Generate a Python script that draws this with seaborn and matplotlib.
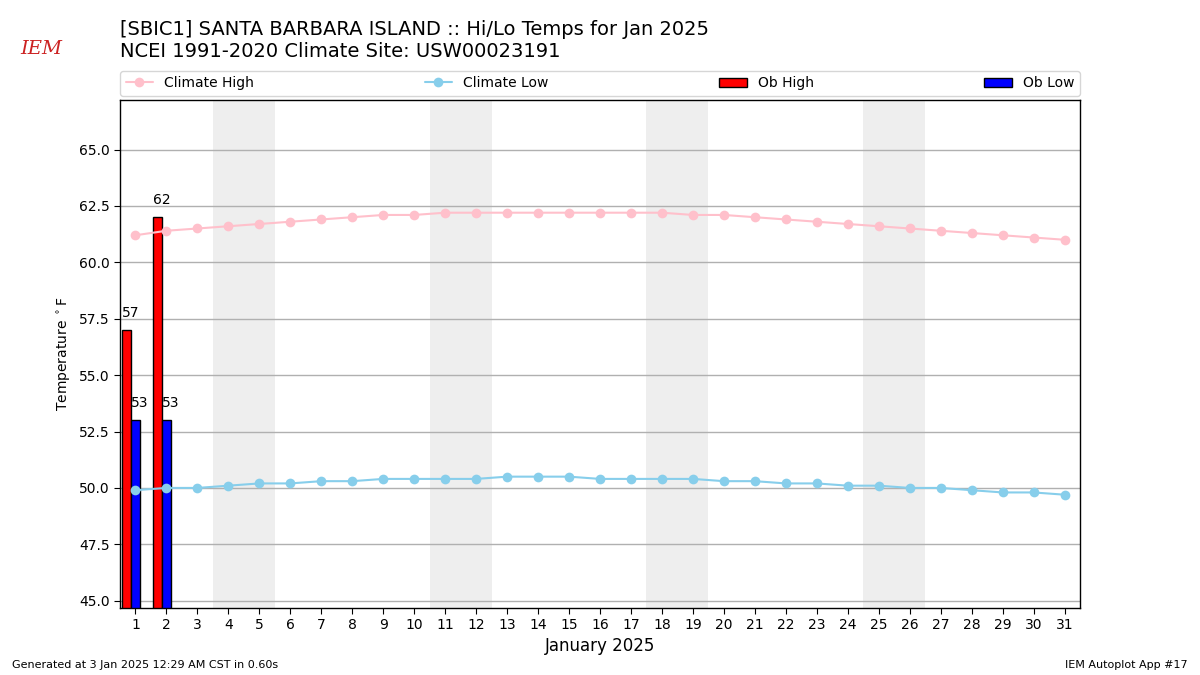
import seaborn as sns
import matplotlib.pyplot as plt
import pandas as pd
import numpy as np
from matplotlib.patches import Patch
from matplotlib.lines import Line2D

days = list(range(1, 32))
climate_high = [61.2, 61.4, 61.5, 61.6, 61.7, 61.8, 61.9, 62.0, 62.1, 62.1,
                62.2, 62.2, 62.2, 62.2, 62.2, 62.2, 62.2, 62.2, 62.1, 62.1,
                62.0, 61.9, 61.8, 61.7, 61.6, 61.5, 61.4, 61.3, 61.2, 61.1, 61.0]
climate_low = [49.9, 50.0, 50.0, 50.1, 50.2, 50.2, 50.3, 50.3, 50.4, 50.4,
               50.4, 50.4, 50.5, 50.5, 50.5, 50.4, 50.4, 50.4, 50.4, 50.3,
               50.3, 50.2, 50.2, 50.1, 50.1, 50.0, 50.0, 49.9, 49.8, 49.8, 49.7]
ob_days = [1, 2]
ob_high = [57, 62]
ob_low = [53, 53]
weekends = [(4, 5), (11, 12), (18, 19), (25, 26)]

title = "[SBIC1] SANTA BARBARA ISLAND :: Hi/Lo Temps for Jan 2025\nNCEI 1991-2020 Climate Site: USW00023191"


def Main():
    sns.set_style("white", rc={"text.color": "black", "axes.labelcolor": "black",
                               "xtick.color": "black", "ytick.color": "black",
                               "axes.edgecolor": "black"})
    clim = pd.DataFrame({"day": days, "high": climate_high, "low": climate_low})

    fig = plt.figure(figsize=(12, 6.75), dpi=100)
    ax = fig.add_axes([0.1, 0.1, 0.8, 0.752])

    # weekend shading
    for a, b in weekends:
        ax.axvspan(a - 0.5, b + 0.5, color="#EEEEEE", zorder=0, lw=0)

    # observed bars
    width = 0.29
    xs = np.array(ob_days, dtype=float)
    ax.bar(xs - 0.42, ob_high, width=width, bottom=0, align="edge",
           color="red", edgecolor="black", lw=1, zorder=2)
    ax.bar(xs - 0.13, ob_low, width=width, bottom=0, align="edge",
           color="blue", edgecolor="black", lw=1, zorder=2)
    for x, v in zip(xs, ob_high):
        ax.text(x - 0.44, v + 0.45, f"{v}", ha="left", va="bottom", fontsize=10, zorder=4)
    for x, v in zip(xs, ob_low):
        ax.text(x - 0.15, v + 0.45, f"{v}", ha="left", va="bottom", fontsize=10, zorder=4)

    # climatology lines
    sns.lineplot(data=clim, x="day", y="high", color="pink", marker="o",
                 markersize=7, markeredgewidth=0, lw=1.5, ax=ax, zorder=3)
    sns.lineplot(data=clim, x="day", y="low", color="skyblue", marker="o",
                 markersize=7, markeredgewidth=0, lw=1.5, ax=ax, zorder=3)

    ax.set_xlim(0.5, 31.5)
    ax.set_ylim(44.7, 67.2)
    ax.set_xticks(days)
    ax.set_yticks(np.arange(45, 65.1, 2.5))
    ax.yaxis.set_major_formatter(plt.FormatStrFormatter("%.1f"))
    ax.grid(axis="y", color="#b0b0b0", lw=1)
    ax.set_axisbelow(True)
    ax.tick_params(axis="both", direction="out", length=4, labelsize=10,
                   left=True, bottom=True, colors="black")
    for s in ax.spines.values():
        s.set_color("black")
        s.set_linewidth(1)
    ax.set_xlabel("January 2025", fontsize=12)
    ax.set_ylabel(r"Temperature $^\circ$F", fontsize=10)

    handles = [
        Line2D([], [], color="pink", marker="o", markersize=7, markeredgewidth=0, lw=1.5),
        Line2D([], [], color="skyblue", marker="o", markersize=7, markeredgewidth=0, lw=1.5),
        Patch(facecolor="red", edgecolor="black"),
        Patch(facecolor="blue", edgecolor="black"),
    ]
    ax.legend(handles, ["Climate High", "Climate Low", "Ob High", "Ob Low"],
              loc="lower left", bbox_to_anchor=(0, 1.008, 1, 0.05), mode="expand",
              ncol=4, borderaxespad=0, fontsize=10, frameon=True)

    fig.text(0.1, 0.909, title, fontsize=14, ha="left", va="bottom", color="black")
    fig.text(0.01, 0.01, "Generated at 3 Jan 2025 12:29 AM CST in 0.60s", fontsize=8)
    fig.text(0.99, 0.01, "IEM Autoplot App #17", fontsize=8, ha="right")
    fig.text(0.017, 0.92, "IEM", fontsize=14, color="#cc2222", family="serif",
             fontstyle="italic")

    fig.savefig("out.png", dpi=100)


if __name__ == '__main__':
    Main()
